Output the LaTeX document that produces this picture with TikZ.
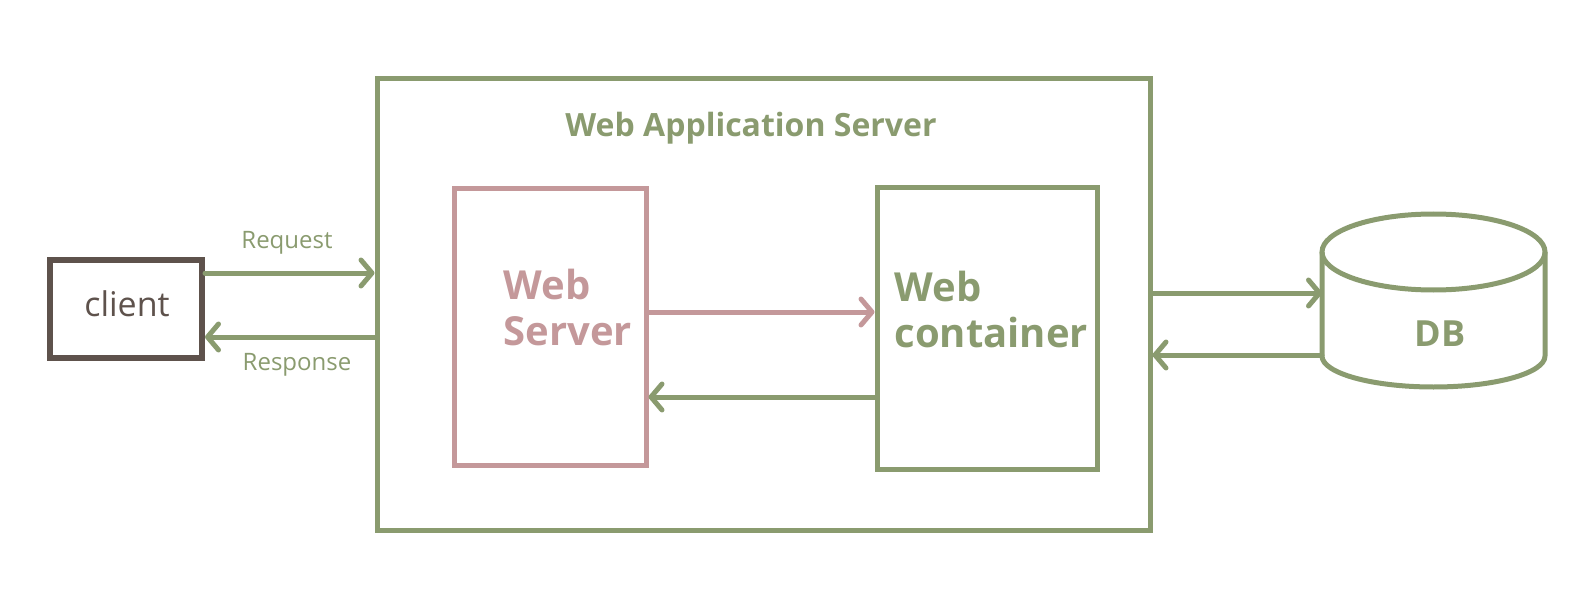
\documentclass[tikz,border=0pt]{standalone}
\usepackage{fontspec}
\setmainfont{Open Sans}
\usetikzlibrary{arrows.meta}

\definecolor{sage}{HTML}{8A9B6F}
\definecolor{rose}{HTML}{C4989A}
\definecolor{umber}{HTML}{5E524C}

\tikzset{
  box/.style = {draw, line width=5pt, minimum width=#1, inner sep=0pt},
  link/.style = {line width=5pt, line cap=round,
    -{Straight Barb[length=11pt, width=26pt, line width=5pt, round]}},
}

\begin{document}
\begin{tikzpicture}[x=1pt, y=-1pt]
\useasboundingbox (0,0) rectangle (1592,604);

% boxes
\node[box=773pt, sage, minimum height=451pt] (was) at (763.5,304.5) {};
\node[box=192pt, rose, minimum height=276pt] (websrv) at (550,327) {};
\node[box=220pt, sage, minimum height=281pt] (webcont) at (987,328.5) {};
\node[box=152pt, umber, line width=6pt, minimum height=98pt] (client) at (126,309) {};

% database
\draw[sage, line width=5pt, line join=round]
  (1322,252) -- (1322,356) arc[start angle=180, end angle=0, x radius=111.5, y radius=31]
  -- (1545,252);
\draw[sage, line width=5pt] (1433.5,252) ellipse [x radius=111.5, y radius=38];
\coordinate (dbtop) at (1322,293);
\coordinate (dbbot) at (1322,355);

% texts
\node[sage, font=\fontsize{32}{38}\selectfont\bfseries] (title) at (751,128) {Web Application Server};
\node[rose, anchor=west, align=left, font=\fontsize{40}{46}\selectfont\bfseries] (srvtext) at (500,307) {Web\\Server};
\node[sage, anchor=west, align=left, font=\fontsize{40}{46}\selectfont\bfseries] (conttext) at (891,309) {Web\\container};
\node[umber, font=\fontsize{34}{40}\selectfont] (clienttext) at (127,304) {client};
\node[sage, font=\fontsize{36}{42}\selectfont\bfseries] (dbtext) at (1440,334) {DB};
\node[sage, font=\fontsize{24}{28}\selectfont] (req) at (287,243) {Request};
\node[sage, font=\fontsize{24}{28}\selectfont] (resp) at (297,365) {Response};

% connectors
\draw[link, sage] ([yshift=36pt]client.east) -- ([yshift=36pt]client.east -| was.west);
\draw[link, sage] ([yshift=-28pt]client.east -| was.west) -- ([yshift=-28pt]client.east);
\draw[link, rose] ([yshift=15pt]websrv.east) -- ([yshift=15pt]websrv.east -| webcont.west);
\draw[link, sage] ([yshift=-70pt]websrv.east -| webcont.west) -- ([yshift=-70pt]websrv.east);
\draw[link, sage] (was.east |- dbtop) -- (dbtop);
\draw[link, sage] (dbbot) -- (was.east |- dbbot);
\end{tikzpicture}
\end{document}
